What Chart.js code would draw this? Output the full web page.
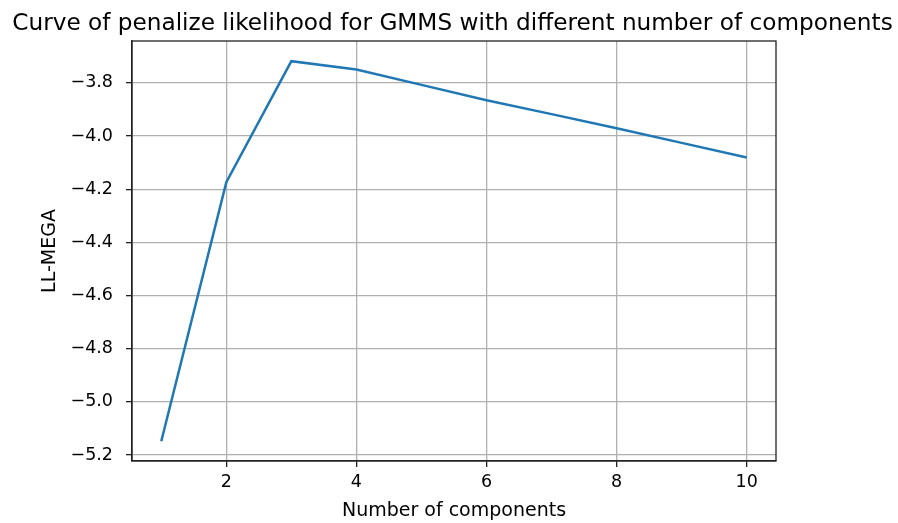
<!DOCTYPE html>
<html>
<head>
<meta charset="utf-8">
<script src="https://cdn.jsdelivr.net/npm/chart.js@4.4.0/dist/chart.umd.min.js"></script>
<style>
  html, body { margin: 0; padding: 0; background: #fff; }
  #wrap { width: 898px; height: 523px; }
</style>
</head>
<body>
<div id="wrap"><canvas id="c" width="898" height="523"></canvas></div>
<script>
// ---- data ----
const categories = [1, 2, 3, 4, 5, 6, 7, 8, 9, 10];
const llMega = [-5.148, -4.174, -3.719, -3.750, -3.808, -3.866, -3.918, -3.971, -4.026, -4.081];
const xTickValues = [2, 4, 6, 8, 10];
const yTickValues = [-5.2, -5.0, -4.8, -4.6, -4.4, -4.2, -4.0, -3.8];
const titleText = 'Curve of penalize likelihood for GMMS with different number of components';
const xLabel = 'Number of components';
const yLabel = 'LL-MEGA';

const points = categories.map((x, i) => ({ x: x, y: llMega[i] }));
const FONT = 'DejaVu Sans';
const spineColor = '#222';

const framePlugin = {
  id: 'frame',
  afterDatasetsDraw(chart) {
    const { ctx, chartArea: a } = chart;
    ctx.save();
    ctx.strokeStyle = spineColor;
    ctx.lineWidth = 1.3;
    ctx.strokeRect(a.left, a.top, a.right - a.left, a.bottom - a.top);
    ctx.restore();
  },
  afterDraw(chart) {
    const { ctx, chartArea: a } = chart;
    ctx.save();
    ctx.fillStyle = '#000';
    ctx.font = '23.2px "DejaVu Sans"';
    ctx.textAlign = 'center';
    ctx.textBaseline = 'alphabetic';
    ctx.fillText(titleText, (a.left + a.right) / 2 - 1.5, 29.5);
    ctx.restore();
  }
};

new Chart(document.getElementById('c'), {
  type: 'line',
  data: {
    datasets: [{
      data: points,
      borderColor: '#1f77b4',
      borderWidth: 2.5,
      pointRadius: 0,
      fill: false,
      tension: 0
    }]
  },
  options: {
    responsive: false,
    animation: false,
    devicePixelRatio: 1,
    layout: { padding: { top: 41, left: 0, right: 122, bottom: 0 } },
    plugins: {
      legend: { display: false },
      tooltip: { enabled: false },
      title: { display: false }
    },
    scales: {
      x: {
        type: 'linear',
        min: 0.55,
        max: 10.45,
        afterBuildTicks(axis) { axis.ticks = xTickValues.map(v => ({ value: v })); },
        afterFit(axis) { axis.height = 62; },
        ticks: {
          color: '#000',
          font: { family: FONT, size: 17.5 },
          padding: 5,
          maxRotation: 0,
          autoSkip: false,
          callback: v => String(v)
        },
        grid: { color: '#b0b0b0', lineWidth: 1.3, tickLength: 6, tickColor: spineColor, tickWidth: 1.3 },
        border: { display: true, color: spineColor, width: 1.3 },
        title: {
          display: true,
          text: xLabel,
          color: '#000',
          font: { family: FONT, size: 19 },
          padding: { top: 0, bottom: 1 }
        }
      },
      y: {
        type: 'linear',
        min: -5.222,
        max: -3.643,
        afterBuildTicks(axis) { axis.ticks = yTickValues.map(v => ({ value: v })); },
        afterFit(axis) { axis.width = 132; },
        ticks: {
          color: '#000',
          font: { family: FONT, size: 17.5 },
          padding: 13,
          autoSkip: false,
          callback: v => (v < 0 ? '\u2212' : '') + Math.abs(v).toFixed(1)
        },
        grid: { color: '#b0b0b0', lineWidth: 1.3, tickLength: 6, tickColor: spineColor, tickWidth: 1.3 },
        border: { display: true, color: spineColor, width: 1.3 },
        title: {
          display: true,
          text: yLabel,
          color: '#000',
          font: { family: FONT, size: 19 },
          padding: { top: 39, bottom: 0 }
        }
      }
    }
  },
  plugins: [framePlugin]
});
</script>
</body>
</html>
